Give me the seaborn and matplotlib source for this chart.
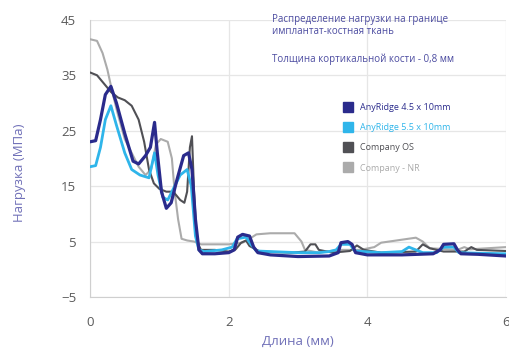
import matplotlib
matplotlib.use("Agg")
import matplotlib.pyplot as plt
from matplotlib.lines import Line2D
import seaborn as sns
import pandas as pd

# --- data ---
ar45_x = [0, 0.08, 0.15, 0.22, 0.3, 0.38, 0.5, 0.62, 0.7, 0.8, 0.87, 0.93, 0.97, 1.03,
          1.1, 1.17, 1.25, 1.35, 1.42, 1.47, 1.52, 1.57, 1.62, 1.8, 2.0, 2.08, 2.13,
          2.2, 2.3, 2.36, 2.42, 2.6, 3.0, 3.45, 3.58, 3.62, 3.72, 3.78, 3.83, 4.0,
          4.5, 4.95, 5.05, 5.1, 5.25, 5.3, 5.35, 5.6, 6.0]
ar45_y = [23, 23.2, 27, 31.5, 33, 30, 24.5, 19.5, 19, 20.5, 22, 26.5, 21, 14,
          11, 12, 16, 20.5, 21, 18, 9, 3.5, 2.8, 2.8, 3, 3.5, 5.8,
          6.3, 6, 4, 3, 2.6, 2.3, 2.4, 3, 4.8, 5, 4.5, 3, 2.6,
          2.6, 2.8, 3.5, 4.5, 4.6, 3.5, 2.8, 2.7, 2.4]

ar55_x = [0, 0.08, 0.15, 0.22, 0.3, 0.38, 0.5, 0.6, 0.72, 0.85, 0.93, 0.98, 1.05,
          1.12, 1.2, 1.3, 1.4, 1.46, 1.52, 1.57, 1.65, 1.9, 2.05, 2.12, 2.25, 2.32,
          2.4, 3.0, 3.3, 3.45, 3.55, 3.62, 3.75, 3.82, 4.2, 4.5, 4.6, 4.68, 4.8,
          5.0, 5.1, 5.25, 5.32, 5.6, 6.0]
ar55_y = [18.5, 18.7, 22, 27, 29.5, 26, 21, 18, 17, 16.5, 21, 17, 13,
          12.5, 14.5, 17, 18, 15, 6, 3.5, 3.2, 3.5, 4, 5.5, 5.8, 4.5,
          3.3, 3, 3, 3.2, 3.5, 4.5, 4.5, 3.3, 3, 3.2, 4, 3.6, 3,
          3, 4, 4, 3, 2.9, 2.8]

os_x = [0, 0.1, 0.2, 0.3, 0.4, 0.5, 0.6, 0.7, 0.78, 0.85, 0.92, 1.0, 1.1, 1.2,
        1.3, 1.36, 1.4, 1.44, 1.47, 1.5, 1.54, 1.6, 1.8, 2.0, 2.1, 2.18, 2.25,
        2.3, 2.45, 2.9, 3.1, 3.18, 3.25, 3.3, 3.5, 3.75, 3.85, 3.95, 4.2, 4.7,
        4.8, 4.9, 5.1, 5.4, 5.5, 5.58, 6.0]
os_y = [35.5, 35, 33.5, 32, 31, 30.5, 29.5, 27, 23, 18, 15.5, 14.5, 14, 14,
        12.5, 12, 14, 22, 24, 14, 5, 3.5, 3.5, 3.2, 3.6, 4.8, 5.2,
        4.2, 3.2, 3, 3.2, 4.5, 4.5, 3.5, 3, 3.3, 4.3, 3.5, 3, 3.2,
        4.5, 3.8, 3.2, 3.2, 4, 3.5, 3.3]

nr_x = [0, 0.1, 0.18, 0.25, 0.32, 0.4, 0.5, 0.6, 0.7, 0.8, 0.88, 0.95, 1.02,
        1.12, 1.18, 1.22, 1.27, 1.32, 1.4, 1.5, 1.6, 2.0, 2.2, 2.3, 2.4, 2.6,
        2.95, 3.05, 3.1, 3.3, 3.6, 3.9, 4.1, 4.2, 4.7, 4.8, 4.9, 5.3, 5.4, 5.48, 6.0]
nr_y = [41.5, 41.2, 39, 36, 32, 28, 23.5, 21, 18.5, 17, 18, 22.5, 23.5,
        23, 20, 14, 9, 5.5, 5.2, 5, 4.5, 4.5, 4.8, 5.5, 6.3, 6.5,
        6.5, 5, 3.5, 3, 3.5, 3.5, 4, 4.8, 5.7, 5, 3.8, 3.5, 4, 3.6, 4]

series_names = ["AnyRidge 4.5 x 10mm", "AnyRidge 5.5 x 10mm", "Company OS", "Company - NR"]
series_colors = ["#2a2b8c", "#2fb5ea", "#505055", "#ababab"]
y_ticks = [-5, 5, 15, 25, 35, 45]
x_ticks = [0, 2, 4, 6]

sns.set_style("whitegrid")
plt.rcParams['font.family'] = ['Open Sans', 'DejaVu Sans']

fig = plt.figure(figsize=(5.09, 3.54), dpi=100)
ax = fig.add_axes([0.177, 0.161, 0.817, 0.783])

# draw light series first so the AnyRidge lines sit on top
data = [(nr_x, nr_y), (os_x, os_y), (ar55_x, ar55_y), (ar45_x, ar45_y)]
order = [3, 2, 1, 0]
widths = {0: 2.3, 1: 2.0, 2: 1.5, 3: 1.5}
for (xs, ys), idx in zip(data, order):
    df = pd.DataFrame({"x": xs, "y": ys})
    sns.lineplot(data=df, x="x", y="y", ax=ax, color=series_colors[idx],
                 linewidth=widths[idx], estimator=None, sort=False, zorder=3 + (3 - idx))

ax.set_xlim(0, 6)
ax.set_ylim(-5, 45)
ax.set_xticks(x_ticks)
ax.set_yticks(y_ticks)
ax.grid(True, color="#e6e6e6", linewidth=0.9)
for s in ["top", "right"]:
    ax.spines[s].set_visible(False)
for s in ["left", "bottom"]:
    ax.spines[s].set_color("#cfcfcf")
ax.tick_params(axis="x", labelsize=9.5, colors="#5a5a5a", pad=14, length=0)
ax.tick_params(axis="y", labelsize=9.5, colors="#5a5a5a", pad=10, length=0)
ax.set_xlabel("Длина (мм)", fontsize=9.5, color="#7070b8")
ax.set_ylabel("Нагрузка (МПа)", fontsize=9.5, color="#7070b8")
ax.yaxis.set_label_coords(-0.155, 0.45)

fig.text(0.535, 0.905, "Распределение нагрузки на границе\nимплантат-костная ткань",
         fontsize=7, color="#4b4ba0", linespacing=1.05)
fig.text(0.535, 0.825, "Толщина кортикальной кости - 0,8 мм", fontsize=7, color="#4b4ba0")

handles = [Line2D([], [], marker="s", linestyle="none", markersize=7,
                  color=c) for c in series_colors]
leg = ax.legend(handles, series_names, loc="upper left", bbox_to_anchor=(0.58, 0.73),
                frameon=False, fontsize=6.5, handletextpad=0.3, labelspacing=1.25)
for t, c in zip(leg.get_texts(), series_colors):
    t.set_color(c)

fig.savefig("out.png", dpi=100)
